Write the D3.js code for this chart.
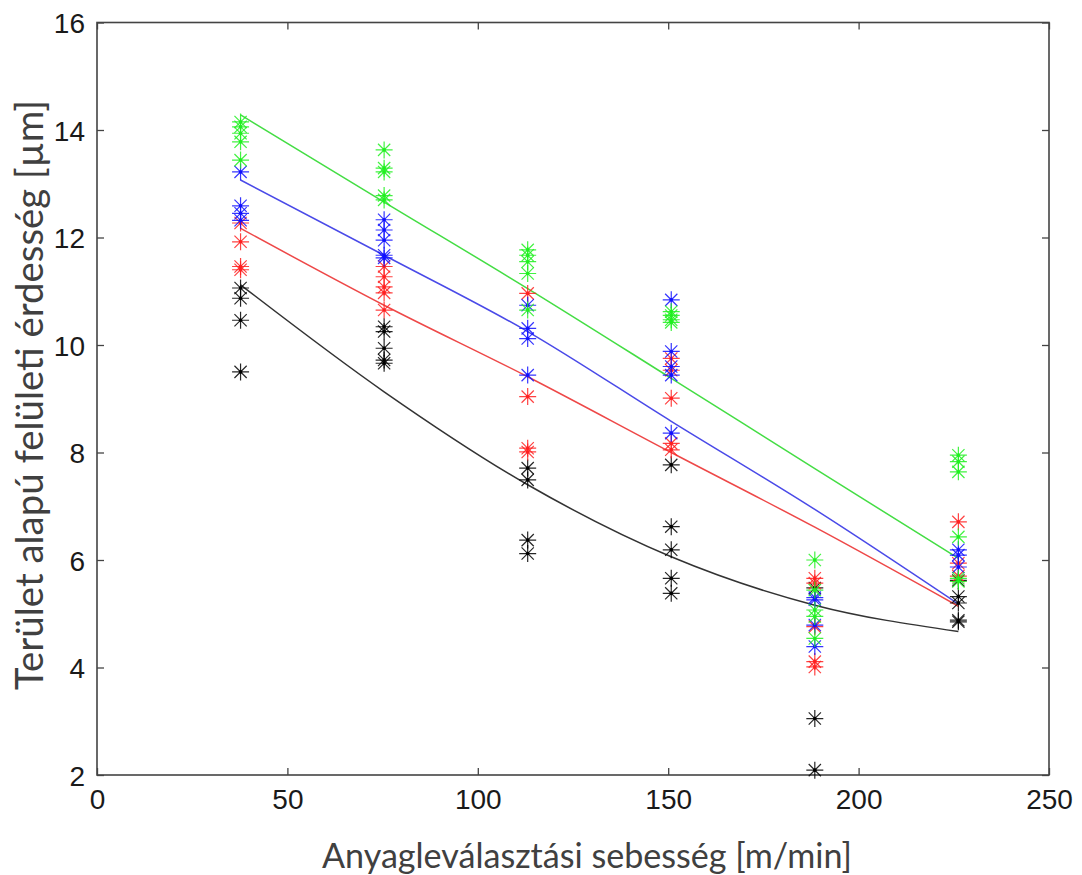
<!DOCTYPE html>
<html><head><meta charset="utf-8">
<script src="https://cdn.jsdelivr.net/npm/d3@7"></script>
<style>body{margin:0;background:#fff}</style></head>
<body>
<svg id="chart" width="1082" height="875"></svg>
<script>
// cutting speeds (x categories)
const speeds = [37.7, 75.4, 113.1, 150.8, 188.5, 226.2];
const xTicks = [0, 50, 100, 150, 200, 250];
const yTicks = [2, 4, 6, 8, 10, 12, 14, 16];
const xTitle = "Anyagleválasztási sebesség [m/min]";
const yTitle = "Terület alapú felületi érdesség [µm]";

// measured points per speed column
const blackPts = [
  [11.06, 10.87, 10.46, 9.50],
  [10.34, 10.25, 9.94, 9.72, 9.66],
  [7.71, 7.49, 6.37, 6.12],
  [7.77, 6.62, 6.19, 5.66, 5.38],
  [5.48, 3.05, 2.09],
  [5.62, 5.32, 5.20, 4.88, 4.85]
];
const redPts = [
  [12.27, 11.92, 11.46, 11.40],
  [11.46, 11.27, 11.08, 10.97, 10.65],
  [10.96, 9.04, 8.08, 8.01],
  [9.75, 9.53, 9.01, 8.17, 8.05],
  [5.66, 5.57, 4.76, 4.11, 4.01],
  [6.71, 5.94, 5.70]
];
const bluePts = [
  [13.22, 12.59, 12.45, 12.32],
  [12.33, 12.14, 11.95, 11.67, 11.62],
  [10.74, 10.31, 10.12, 9.44],
  [10.84, 9.88, 9.60, 9.44, 8.36],
  [5.30, 5.26, 4.79, 4.39],
  [6.19, 6.09, 5.87]
];
const greenPts = [
  [14.15, 14.06, 13.94, 13.78, 13.44],
  [13.63, 13.29, 13.22, 12.78, 12.70],
  [11.77, 11.67, 11.55, 11.33, 10.65],
  [10.62, 10.55, 10.47, 10.42],
  [6.00, 5.44, 5.07, 4.95, 4.54],
  [7.95, 7.83, 7.64, 6.43, 5.66, 5.60]
];

// fitted curves (values at each speed)
const blackFit = [11.12, 9.13, 7.40, 6.06, 5.16, 4.67];
const redFit   = [12.17, 10.74, 9.41, 8.00, 6.61, 5.14];
const blueFit  = [13.07, 11.67, 10.25, 8.58, 6.94, 5.18];
const greenFit = [14.28, 12.66, 11.05, 9.38, 7.70, 6.03];

const series = [
  {pts: blackPts, fit: blackFit, mark: "#000000", line: "#333333"},
  {pts: redPts,   fit: redFit,   mark: "#ff2020", line: "#ee4848"},
  {pts: bluePts,  fit: blueFit,  mark: "#1010ff", line: "#4a4ae8"},
  {pts: greenPts, fit: greenFit, mark: "#20f020", line: "#44dd44"}
];

const svg = d3.select("#chart");
const L = 97, R = 1049, T = 22.5, B = 775;
const x = d3.scaleLinear().domain([0, 250]).range([L, R]);
const y = d3.scaleLinear().domain([2, 16]).range([B, T]);

const tickFont = "'Liberation Sans', Arial, sans-serif";
const frameCol = "#444";

// axes with inward ticks
const gx = svg.append("g").attr("transform", `translate(0,${B})`)
  .call(d3.axisBottom(x).tickValues(xTicks).tickFormat(d3.format("d")).tickSizeInner(-7).tickSizeOuter(0).tickPadding(13));
const gxt = svg.append("g").attr("transform", `translate(0,${T})`)
  .call(d3.axisTop(x).tickValues(xTicks).tickFormat("").tickSizeInner(-7).tickSizeOuter(0));
const gy = svg.append("g").attr("transform", `translate(${L},0)`)
  .call(d3.axisLeft(y).tickValues(yTicks).tickFormat(d3.format("d")).tickSizeInner(-7).tickSizeOuter(0).tickPadding(12));
const gyr = svg.append("g").attr("transform", `translate(${R},0)`)
  .call(d3.axisRight(y).tickValues(yTicks).tickFormat("").tickSizeInner(-7).tickSizeOuter(0));

[gx, gxt, gy, gyr].forEach(g => {
  g.select(".domain").remove();
  g.selectAll(".tick line").attr("stroke", frameCol).attr("stroke-width", 1.3);
  g.selectAll(".tick text").attr("font-family", tickFont).attr("font-size", 28).attr("fill", "#1a1a1a");
});
gx.selectAll(".tick text").attr("dy", "0.75em");
gy.selectAll(".tick text").attr("dy", "0.36em");

// frame
svg.append("rect").attr("x", L).attr("y", T).attr("width", R - L).attr("height", B - T)
  .attr("fill", "none").attr("stroke", frameCol).attr("stroke-width", 1.6);

// fitted lines
const lineGen = d3.line().x((d, i) => x(speeds[i])).y(d => y(d)).curve(d3.curveMonotoneX);
series.forEach(s => {
  svg.append("path").datum(s.fit).attr("d", lineGen)
    .attr("fill", "none").attr("stroke", s.line).attr("stroke-width", 1.5);
});

// asterisk markers
const r = 8.5, dd = r * 0.72;
const starPath = `M${-r},0H${r}M0,${-r}V${r}M${-dd},${-dd}L${dd},${dd}M${-dd},${dd}L${dd},${-dd}`;
series.forEach(s => {
  const flat = [];
  s.pts.forEach((col, i) => col.forEach(v => flat.push({sx: speeds[i], v})));
  const g = svg.append("g");
  const m = g.selectAll("g.m").data(flat).join("g")
    .attr("transform", d => `translate(${x(d.sx)},${y(d.v)})`);
  m.append("path").attr("d", starPath).attr("stroke", s.mark).attr("stroke-width", 1.2)
    .attr("fill", "none").attr("opacity", 0.85);
  m.append("circle").attr("r", 1.8).attr("fill", s.mark);
});

// axis titles, fitted to measured widths
const titleFont = "Lato, 'Open Sans', sans-serif";
function fitText(t, target) {
  let fs = 26;
  t.attr("font-size", fs);
  const w = t.node().getComputedTextLength();
  t.attr("font-size", fs * target / w);
}
const xt = svg.append("text").attr("x", 587).attr("y", 868).attr("text-anchor", "middle")
  .attr("font-family", titleFont).attr("fill", "#404040").text(xTitle);
fitText(xt, 530);
const yt = svg.append("text").attr("transform", "translate(43,395) rotate(-90)").attr("text-anchor", "middle")
  .attr("font-family", titleFont).attr("fill", "#404040").text(yTitle);
fitText(yt, 590);
</script>
</body></html>
